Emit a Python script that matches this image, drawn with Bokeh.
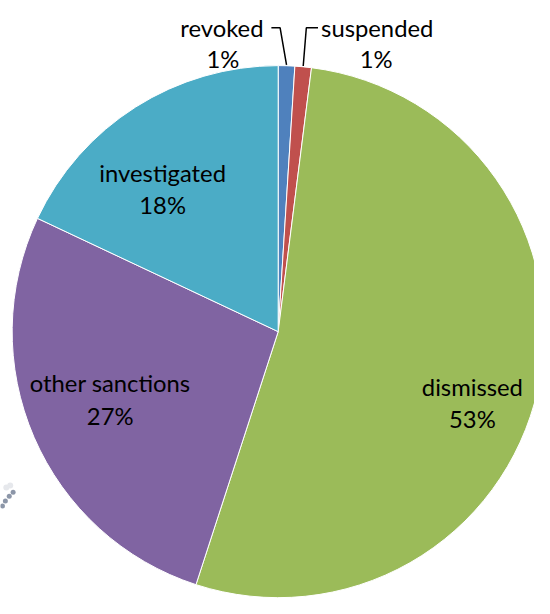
import math
from bokeh.plotting import figure
from bokeh.models import Range1d
from bokeh.core.properties import value
from bokeh.embed import file_html
from bokeh.resources import INLINE

# ---- data ----
categories = ["revoked", "suspended", "dismissed", "other sanctions", "investigated"]
percents = [1, 1, 53, 27, 18]
colors = ["#4F81BD", "#C0504D", "#9BBB59", "#8064A2", "#4BACC6"]

# ---- layout: data space = reference pixel space (550 x 614, y downward via Y()) ----
W, H = 534, 598
REF_W, REF_H = 550, 614
def Y(yi):
    return REF_H - yi

cx, cy_img, R = 286, 340, 274
FONT = "Lato"
FS = "%.1fpx" % (24.5 * W / REF_W)

p = figure(width=W, height=H, output_backend="svg", toolbar_location=None,
           x_range=Range1d(0, REF_W), y_range=Range1d(0, REF_H),
           min_border=0, outline_line_color=None)
p.axis.visible = False
p.grid.visible = False
p.background_fill_color = "white"
p.border_fill_color = "white"

total = sum(percents)
starts, ends, mids = [], [], []
cum = 0.0
for v in percents:
    a0 = math.pi / 2 - 2 * math.pi * cum / total
    cum += v
    a1 = math.pi / 2 - 2 * math.pi * cum / total
    starts.append(a0)
    ends.append(a1)
    mids.append((a0 + a1) / 2)

p.wedge(x=cx, y=Y(cy_img), radius=R, start_angle=starts, end_angle=ends,
        direction="clock", fill_color=colors, line_color="white", line_width=1)

# ---- labels ----
lab_name_x = [228, 388, 486, 113, 167]
lab_name_y = [28, 28, 397, 393, 177]
lab_pct_x = [229, 387, 486, 113, 167]
lab_pct_y = [60, 60, 430, 427, 210]

p.text(x=lab_name_x, y=[Y(v) for v in lab_name_y], text=categories,
       text_font=value(FONT), text_font_size=FS, text_align="center",
       text_baseline="alphabetic", text_color="black")
p.text(x=lab_pct_x, y=[Y(v) for v in lab_pct_y], text=[f"{v}%" for v in percents],
       text_font=value(FONT), text_font_size=FS, text_align="center",
       text_baseline="alphabetic", text_color="black")

# ---- leader lines for the two small slices ----
elbows = [(279, 288), (327, 315)]
for i, (x0, x1) in enumerate(elbows):
    ex = cx + R * math.cos(mids[i])
    ey = Y(cy_img) + R * math.sin(mids[i])
    p.line(x=[x0, x1, ex], y=[Y(28), Y(28), ey], line_color="black", line_width=1.5)

# ---- small resize-handle artefact ----
p.scatter(x=[13, 9, 5, 2], y=[Y(505), Y(509), Y(514), Y(519)], size=5,
          fill_color="#8C96A8", line_color=None)
p.scatter(x=[6, 10], y=[Y(500), Y(498)], size=6, fill_color="#E6E8EC", line_color=None)

open("out.html", "w").write(file_html(p, INLINE))
